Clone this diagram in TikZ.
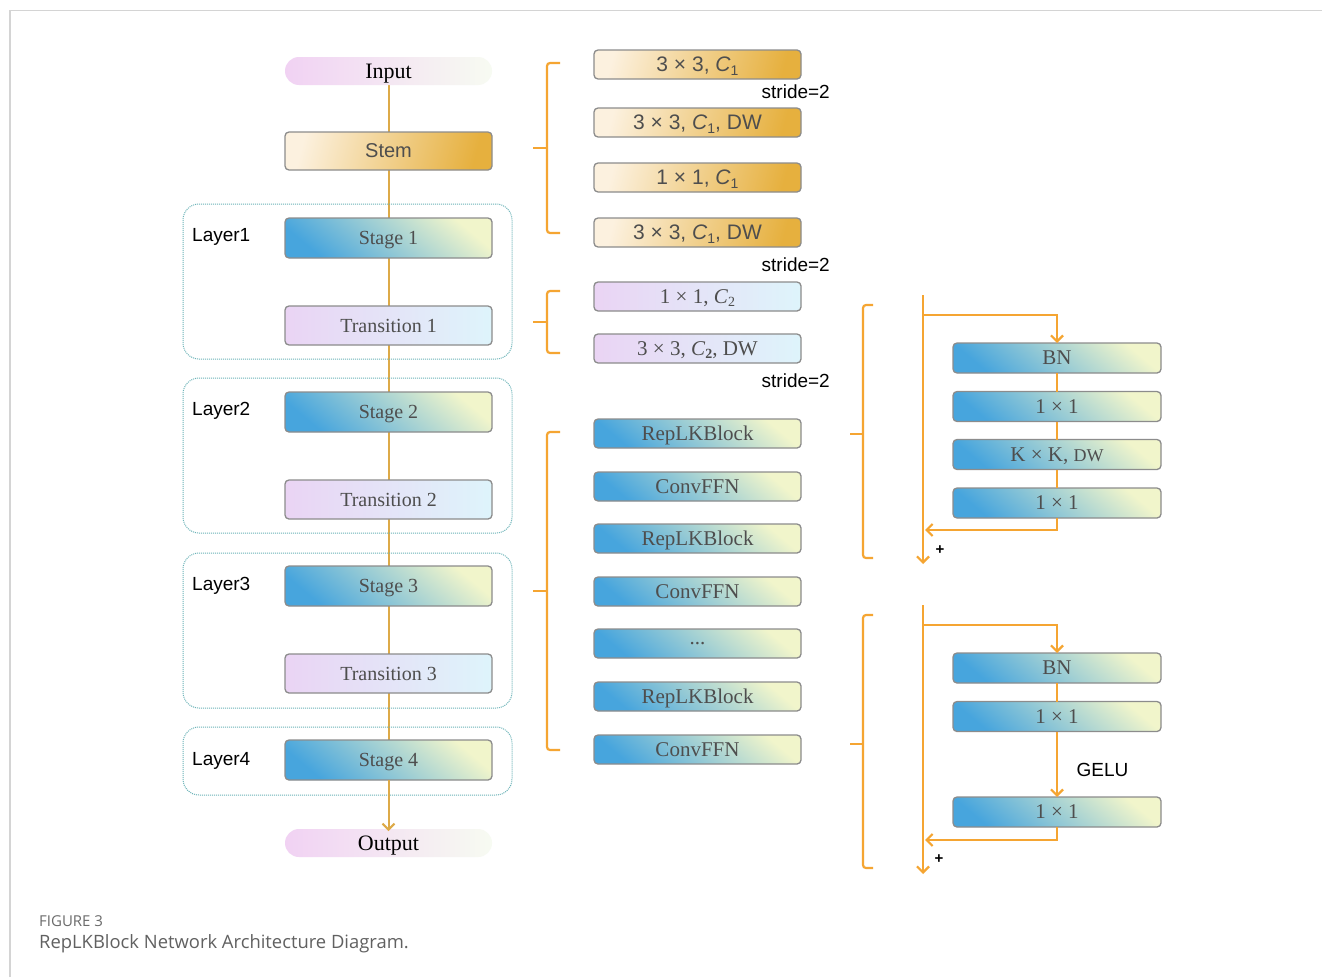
\documentclass[tikz,border=0pt]{standalone}
\usepackage{fontspec}
\setmainfont{Liberation Serif}
\setsansfont{Liberation Sans}
\newfontfamily\capfont{Open Sans}
\usetikzlibrary{arrows.meta,backgrounds}

\newcommand\fsz[1]{\fontsize{#1}{#1}\selectfont}
% italic C with a lowered index, in the current family
\newcommand\Cidx[1]{\textit{C}\raisebox{-0.32ex}{\fontsize{14}{14}\selectfont #1}}

\definecolor{framegray}{HTML}{D4D4D4}
\definecolor{boxgray}{HTML}{8C8C8C}
\definecolor{txtgray}{HTML}{4E4E4E}
\definecolor{linegold}{HTML}{DDAA48}
\definecolor{lineorange}{HTML}{F5A532}
\definecolor{layerteal}{HTML}{6BB3B8}
\definecolor{stemL}{HTML}{FCF1DF}
\definecolor{stemM}{HTML}{F8E2B6}
\definecolor{stemR}{HTML}{E6B03E}
\definecolor{blueL}{HTML}{47A5DD}
\definecolor{blueM}{HTML}{A9D8E6}
\definecolor{blueR}{HTML}{F1F5CB}
\definecolor{lavL}{HTML}{EAD4F4}
\definecolor{lavR}{HTML}{DEF4FB}
\definecolor{pillL}{HTML}{F1D2F3}
\definecolor{pillR}{HTML}{F7FBF2}

\tikzset{
  blk/.style={draw=boxgray, line width=1.3pt, rounded corners=4pt,
    inner sep=0pt, outer sep=0pt, text=txtgray, text depth=0pt},
  goldfill/.style={left color=stemL, middle color=stemM, right color=stemR, shading angle=75},
  bluefill/.style={left color=blueL, middle color=blueM, right color=blueR, shading angle=140},
  lavfill/.style={left color=lavL, right color=lavR},
  colbox/.style={blk, minimum width=207pt},
  stembox/.style={colbox, goldfill, minimum height=38pt, font=\sffamily\fsz{20}},
  stagebox/.style={colbox, bluefill, minimum height=40pt, font=\fsz{20}},
  transbox/.style={colbox, lavfill, minimum height=39pt, font=\fsz{20}},
  pill/.style={rounded corners=14pt, minimum width=207pt, minimum height=28pt,
    inner sep=0pt, outer sep=0pt, left color=pillL, right color=pillR,
    font=\fsz{22}, text=black, text depth=0pt},
  layerbox/.style={draw=layerteal, line width=1pt, dash pattern=on 1pt off 1pt,
    rounded corners=16pt, minimum width=329pt, inner sep=0pt, outer sep=0pt},
  layerlabel/.style={anchor=west, font=\sffamily\fsz{19}, text=black, inner sep=0pt},
  midgold/.style={blk, goldfill, minimum width=207pt, minimum height=29pt, font=\sffamily\fsz{21}},
  midlav/.style={blk, lavfill, minimum width=207pt, minimum height=29pt, font=\fsz{21}},
  midblue/.style={blk, bluefill, minimum width=207pt, minimum height=29pt, font=\fsz{21}},
  rblue/.style={blk, bluefill, minimum width=208pt, minimum height=30pt, font=\fsz{21}},
  stridelabel/.style={anchor=east, font=\sffamily\fsz{19}, text=black, inner sep=0pt},
  flow/.style={draw=linegold, line width=2pt},
  flowarr/.style={flow, -{Straight Barb[length=6pt,width=12pt]}},
  oline/.style={draw=lineorange, line width=2.2pt},
  oarr/.style={oline, -{Straight Barb[length=6pt,width=12pt]}},
  brk/.style={draw=lineorange, line width=2.2pt, rounded corners=3pt},
}

\begin{document}
\begin{tikzpicture}[x=1pt, y=-1pt]
\useasboundingbox (0,0) rectangle (1322,977);
\begin{scope}[on background layer]
  \fill[white] (0,0) rectangle (1322,977);
\end{scope}
% page frame
\draw[framegray, line width=1.3pt] (10,977) -- (10,10.5) -- (1322,10.5);

% ---- layer groups ----
\node[layerbox, minimum height=155pt] (L1) at (347.5,281.5) {};
\node[layerbox, minimum height=155pt] (L2) at (347.5,455.5) {};
\node[layerbox, minimum height=155pt] (L3) at (347.5,630.5) {};
\node[layerbox, minimum height=68pt]  (L4) at (347.5,761) {};
\node[layerlabel] (L1t) at (192,237) {Layer1};
\node[layerlabel] (L2t) at (192,411) {Layer2};
\node[layerlabel] (L3t) at (192,586) {Layer3};
\node[layerlabel] (L4t) at (192,761) {Layer4};

% ---- main column ----
\node[pill] (input) at (388.5,71) {Input};
\node[stembox] (stem) at (388.5,151) {Stem};
\node[stagebox] (s1) at (388.5,238) {Stage 1};
\node[transbox] (t1) at (388.5,325.5) {Transition 1};
\node[stagebox] (s2) at (388.5,412) {Stage 2};
\node[transbox] (t2) at (388.5,499.5) {Transition 2};
\node[stagebox] (s3) at (388.5,586) {Stage 3};
\node[transbox] (t3) at (388.5,673.5) {Transition 3};
\node[stagebox] (s4) at (388.5,760) {Stage 4};
\node[pill] (output) at (388.5,843) {Output};

\begin{scope}[on background layer]
  \draw[flow] (input.south) -- (stem.north);
  \draw[flow] (stem.south) -- (s1.north);
  \draw[flow] (s1.south) -- (t1.north);
  \draw[flow] (t1.south) -- (s2.north);
  \draw[flow] (s2.south) -- (t2.north);
  \draw[flow] (t2.south) -- (s3.north);
  \draw[flow] (s3.south) -- (t3.north);
  \draw[flow] (t3.south) -- (s4.north);
\end{scope}
\draw[flowarr] (s4.south) -- ([yshift=-2pt]output.north);

% ---- stem detail ----
\node[midgold] (m1) at (697.5,64.5) {3 × 3, \Cidx{1}};
\node[stridelabel] (sd1) at (830,92) {stride=2};
\node[midgold] (m2) at (697.5,122.5) {3 × 3, \Cidx{1}, DW};
\node[midgold] (m3) at (697.5,177.5) {1 × 1, \Cidx{1}};
\node[midgold] (m4) at (697.5,232.5) {3 × 3, \Cidx{1}, DW};
\node[stridelabel] (sd2) at (830,265) {stride=2};
\draw[brk] (560,63) -- (547,63) -- (547,233) -- (560,233);
\draw[brk] (547,148) -- (533,148);

% ---- transition detail ----
\node[midlav] (m5) at (697.5,296.5) {1 × 1, \Cidx{2}};
\node[midlav] (m6) at (697.5,348.5) {3 × 3, \Cidx{\textbf{2}}, DW};
\node[stridelabel] (sd3) at (830,381) {stride=2};
\draw[brk] (560,291) -- (547,291) -- (547,353) -- (560,353);
\draw[brk] (547,322) -- (533,322);

% ---- stage detail ----
\node[midblue] (b1) at (697.5,433.5) {RepLKBlock};
\node[midblue] (b2) at (697.5,486.5) {ConvFFN};
\node[midblue] (b3) at (697.5,538.5) {RepLKBlock};
\node[midblue] (b4) at (697.5,591.5) {ConvFFN};
\node[midblue] (b5) at (697.5,643.5) {...};
\node[midblue] (b6) at (697.5,696.5) {RepLKBlock};
\node[midblue] (b7) at (697.5,749.5) {ConvFFN};
\draw[brk] (560,432) -- (547,432) -- (547,750) -- (560,750);
\draw[brk] (547,591) -- (533,591);

% ---- RepLKBlock detail ----
\draw[brk] (873,305) -- (863,305) -- (863,558) -- (873,558);
\draw[brk] (863,434) -- (850,434);
\node[rblue] (bn1) at (1057,358) {BN};
\node[rblue] (p1) at (1057,406.5) {1 × 1};
\node[rblue] (kk) at (1057,454.5) {K × K, {\fsz{18}DW}};
\node[rblue] (p2) at (1057,503) {1 × 1};
\coordinate (r1top) at (923,295);
\coordinate (r1split) at (923,315);
\coordinate (r1join) at (925,530);
\coordinate (r1bot) at (923,564);
\draw[oarr] (r1top) -- (r1bot);
\draw[oarr] (r1split) -| (bn1.north);
\draw[oline] (bn1) -- (p1);
\draw[oline] (p1) -- (kk);
\draw[oline] (kk) -- (p2);
\draw[oarr] (p2.south) |- (r1join);
\node[font=\sffamily\bfseries\fsz{15}, text=black] (plus1) at (940,550) {+};

% ---- ConvFFN detail ----
\draw[brk] (873,615) -- (863,615) -- (863,868) -- (873,868);
\draw[brk] (863,744) -- (850,744);
\node[rblue] (bn2) at (1057,668) {BN};
\node[rblue] (q1) at (1057,716.5) {1 × 1};
\node[rblue] (q2) at (1057,812) {1 × 1};
\coordinate (r2top) at (923,605);
\coordinate (r2split) at (923,625);
\coordinate (r2join) at (925,840);
\coordinate (r2bot) at (923,874);
\draw[oarr] (r2top) -- (r2bot);
\draw[oarr] (r2split) -| (bn2.north);
\draw[oline] (bn2) -- (q1);
\draw[oarr] (q1.south) -- (q2.north);
\draw[oarr] (q2.south) |- (r2join);
\node[font=\sffamily\fsz{19}, text=black, anchor=west] (gelu) at (1073,770) {GELU};
\node[font=\sffamily\bfseries\fsz{15}, text=black] (plus2) at (939,859) {+};

% ---- caption ----
\node[anchor=west, inner sep=0pt, font=\capfont\fsz{15}, text=black!58] (figno) at (39,921) {FIGURE 3};
\node[anchor=west, inner sep=0pt, font=\capfont\fsz{18.4}, text=black!62] (figcap) at (39,944) {RepLKBlock Network Architecture Diagram.};
\end{tikzpicture}
\end{document}
